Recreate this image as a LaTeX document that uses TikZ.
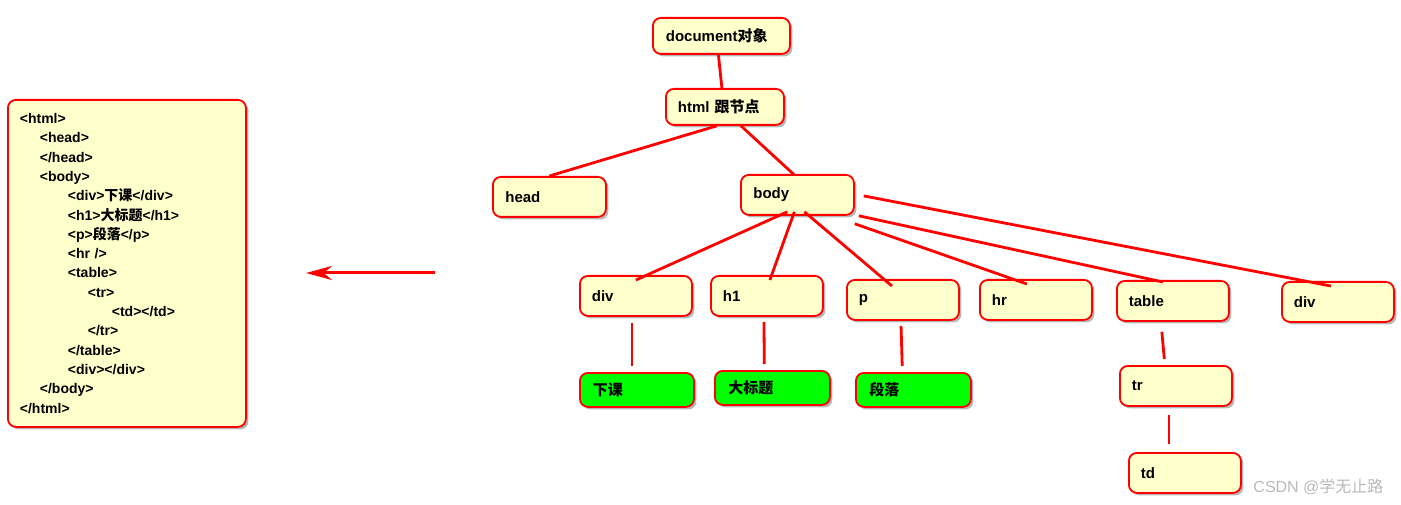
\documentclass[tikz,border=0pt]{standalone}
\usepackage{fontspec}
\setmainfont{Liberation Sans}
\newfontfamily\cjk{Noto Sans CJK SC}
\usetikzlibrary{shadows,arrows.meta}
\definecolor{boxYellow}{HTML}{FFFFCC}
\definecolor{leafGreen}{HTML}{00FF00}

\tikzset{
  tag/.style={draw=red, line width=1.8pt, fill=boxYellow, rounded corners=8pt,
    drop shadow={shadow xshift=2.5pt, shadow yshift=-2.5pt, fill=gray!80, opacity=.7},
    minimum width=112pt, minimum height=40pt, text width=88pt, align=left,
    font=\fontsize{15}{18}\selectfont\bfseries, inner sep=0pt, anchor=north west},
  leaf/.style={tag, fill=leafGreen, minimum height=34pt},
  link/.style={red, line width=2.8pt}
}

\begin{document}
\begin{tikzpicture}[x=1pt,y=-1pt]
    \useasboundingbox (0,0) rectangle (1401,505);
    % code listing
    \node (code) [tag, minimum width=238pt, minimum height=327pt, text width=214pt,
      font=\fontsize{14}{19.3}\selectfont\bfseries] at (7,99) {%
      <html>\\
      \hspace*{20pt}<head>\\
      \hspace*{20pt}</head>\\
      \hspace*{20pt}<body>\\
      \hspace*{48pt}<div>{\cjk 下课}</div>\\
      \hspace*{48pt}<h1>{\cjk 大标题}</h1>\\
      \hspace*{48pt}<p>{\cjk 段落}</p>\\
      \hspace*{48pt}<hr />\\
      \hspace*{48pt}<table>\\
      \hspace*{68pt}<tr>\\
      \hspace*{92pt}<td></td>\\
      \hspace*{68pt}</tr>\\
      \hspace*{48pt}</table>\\
      \hspace*{48pt}<div></div>\\
      \hspace*{20pt}</body>\\
      </html>};
    \coordinate (arrowstart) at (435,273);
    \coordinate (arrowend) at (306,273);
    \draw [red, line width=3pt, -{Stealth[length=26pt,width=14pt]}] (arrowstart) -- (arrowend);

    % tree
    \node (doc)   [tag, minimum width=137pt, minimum height=36pt, text width=111pt] at (652,17) {document{\cjk 对象}};
    \node (html)  [tag, minimum width=118pt, minimum height=36pt, text width=94pt] at (665,88) {html {\cjk 跟节点}};
    \node (head)  [tag, minimum width=113pt] at (492,176) {head};
    \node (body)  [tag, minimum width=113pt] at (740,174) {body};
    \node (div)   [tag] at (579,275) {div};
    \node (hone)  [tag] at (710,275) {h1};
    \node (para)  [tag] at (846,279) {p};
    \node (hr)    [tag] at (979,279) {hr};
    \node (table) [tag] at (1116,280) {table};
    \node (divb)  [tag] at (1281,281) {div};
    \node (tr)    [tag] at (1119,365) {tr};
    \node (td)    [tag] at (1128,452) {td};
    \node (xiake) [leaf, minimum width=114pt] at (579,372) {\cjk 下课};
    \node (title) [leaf, minimum width=115pt] at (714,370) {\cjk 大标题};
    \node (duan)  [leaf, minimum width=115pt] at (855,372) {\cjk 段落};

    \draw [link] ([xshift=-3pt]doc.south) -- ([xshift=-3pt]html.north);
    \draw [link] ([xshift=-8pt]html.south) -- (head.north);
    \draw [link] ([xshift=16pt]html.south) -- ([xshift=-3pt,yshift=-1pt]body.north);
    \draw [link] ([xshift=-10pt,yshift=4pt]body.south) -- ([yshift=-5pt]div.north);
    \draw [link] ([xshift=-3pt,yshift=4pt]body.south) -- ([xshift=3pt,yshift=-5pt]hone.north);
    \draw [link] ([xshift=7pt,yshift=4pt]body.south) -- ([xshift=-11pt,yshift=-7pt]para.north);
    \draw [link] ([yshift=-8pt]body.south east) -- ([xshift=-9pt,yshift=-5pt]hr.north);
    \draw [link] ([xshift=4pt,yshift=0pt]body.south east) -- ([xshift=-10pt,yshift=-2pt]table.north);
    \draw [link] ([xshift=9pt,yshift=-1pt]body.east) -- ([xshift=-7pt,yshift=-5pt]divb.north);
    \draw [link, shorten <=6pt, shorten >=6pt] ([xshift=-4pt]div.south) -- ([xshift=-5pt]xiake.north);
    \draw [link, shorten <=5pt, shorten >=6pt] ([xshift=-3pt]hone.south) -- ([xshift=-8pt]title.north);
    \draw [link, shorten <=5pt, shorten >=6pt] ([xshift=-2pt]para.south) -- ([xshift=-11pt]duan.north);
    \draw [link, shorten <=10pt, shorten >=6pt] ([xshift=-12pt]table.south) -- ([xshift=-11pt]tr.north);
    \draw [link, shorten <=8pt, shorten >=8pt] ([xshift=-7pt]tr.south) -- ([xshift=-16pt]td.north);

    \node (mark) [anchor=east, text=gray!55, font=\fontsize{16}{18}\selectfont] at (1387,487) {CSDN @{\cjk 学无止路}};
\end{tikzpicture}
\end{document}
